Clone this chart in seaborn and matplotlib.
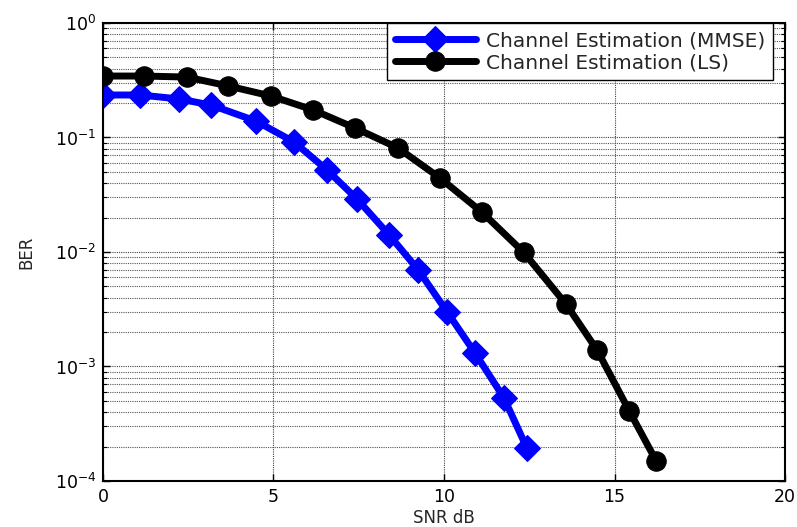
import matplotlib
matplotlib.use("Agg")
import matplotlib.pyplot as plt
import seaborn as sns
import pandas as pd
from matplotlib.ticker import LogLocator, FixedLocator, NullFormatter

snr_mmse = [0, 1.09, 2.23, 3.17, 4.49, 5.6, 6.57, 7.45, 8.39, 9.24, 10.09, 10.91, 11.76, 12.43]
ber_mmse = [0.235, 0.235, 0.217, 0.192, 0.139, 0.0914, 0.052, 0.029, 0.0141, 0.0070, 0.0030, 0.00131, 0.00053, 0.000194]

snr_ls = [0, 1.2, 2.46, 3.67, 4.93, 6.16, 7.39, 8.65, 9.88, 11.11, 12.34, 13.58, 14.49, 15.43, 16.22]
ber_ls = [0.344, 0.344, 0.337, 0.282, 0.23, 0.174, 0.121, 0.081, 0.0443, 0.0223, 0.0099, 0.0035, 0.00139, 0.00041, 0.00015]

labels = ["Channel Estimation (MMSE)", "Channel Estimation (LS)"]
x_ticks = [0, 5, 10, 15, 20]
y_ticks = [1e-4, 1e-3, 1e-2, 1e-1, 1e0]
y_ticklabels = ["$10^{-4}$", "$10^{-3}$", "$10^{-2}$", "$10^{-1}$", "$10^{0}$"]

sns.set_theme(style="white")
plt.rcParams['font.family'] = ['DejaVu Sans']
plt.rcParams['mathtext.fontset'] = 'dejavusans'
plt.rcParams['mathtext.default'] = 'regular'

df_mmse = pd.DataFrame({"SNR": snr_mmse, "BER": ber_mmse})
df_ls = pd.DataFrame({"SNR": snr_ls, "BER": ber_ls})

fig = plt.figure(figsize=(7.97, 5.27), dpi=100)
ax = fig.add_axes([0.1292, 0.0873, 0.8558, 0.8691])

sns.lineplot(data=df_mmse, x="SNR", y="BER", ax=ax, color="#0000ff", linewidth=5,
             marker="D", markersize=13, markeredgecolor="#0000ff", markerfacecolor="#0000ff",
             label=labels[0], sort=False)
sns.lineplot(data=df_ls, x="SNR", y="BER", ax=ax, color="black", linewidth=5,
             marker="o", markersize=14, markeredgecolor="black", markerfacecolor="black",
             label=labels[1], sort=False)

ax.set_yscale("log")
ax.set_xlim(0, 20)
ax.set_ylim(1e-4, 1)
ax.set_xticks(x_ticks)
ax.set_xticklabels([str(t) for t in x_ticks])
ax.yaxis.set_major_locator(FixedLocator(y_ticks))
ax.set_yticklabels(y_ticklabels)
ax.yaxis.set_minor_locator(LogLocator(base=10, subs=[2, 3, 4, 5, 6, 7, 8, 9], numticks=20))
ax.yaxis.set_minor_formatter(NullFormatter())

ax.grid(True, which="major", color="#444444", linestyle=(0, (1, 1)), linewidth=0.8)
ax.grid(True, which="minor", axis="y", color="#555555", linestyle=(0, (1, 1)), linewidth=0.8)

ax.tick_params(axis="both", which="both", direction="in", top=True, right=True,
               bottom=True, left=True, colors="black")
ax.tick_params(which="major", length=5, width=1, labelsize=12.5, pad=5)
ax.tick_params(which="minor", length=3, width=0.8)

for s in ax.spines.values():
    s.set_color("black")
    s.set_linewidth(1.5)

ax.set_xlabel("SNR dB", fontsize=12, labelpad=2)
ax.set_ylabel("BER", fontsize=12, labelpad=14)

leg = ax.legend(loc="upper right", fontsize=14.5, frameon=True, fancybox=False,
                borderaxespad=0.0, handlelength=4.0, handletextpad=0.5,
                borderpad=0.4, labelspacing=0.15,
                bbox_to_anchor=(0.9824, 1.0))
leg.get_frame().set_edgecolor("black")
leg.get_frame().set_linewidth(1.0)
leg.get_frame().set_alpha(1)

fig.savefig("out.png", dpi=100)
